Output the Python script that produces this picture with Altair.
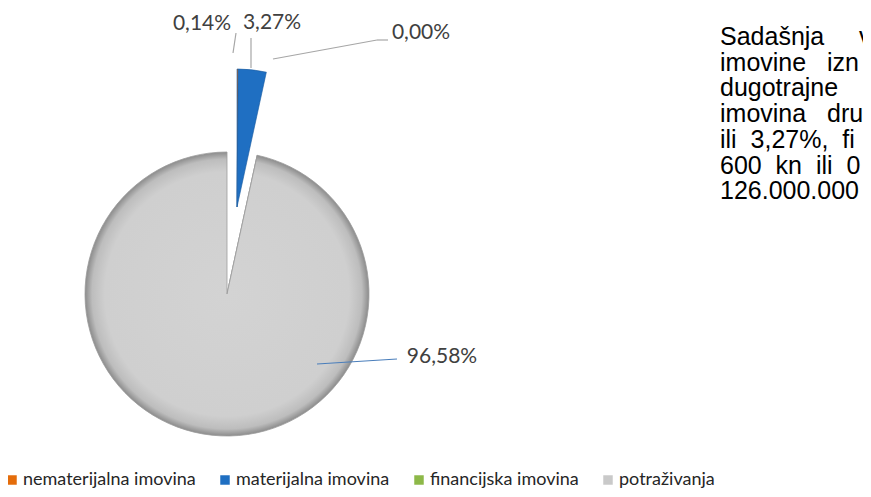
import altair as alt
import pandas as pd

# ---- data ----
categories = ["nematerijalna imovina", "materijalna imovina", "financijska imovina", "potraživanja"]
shares = [0.14, 3.27, 0.00, 96.58]
slice_colors = ["#E46C0A", "#1F6FC2", "#8DB848", "#C9C9C9"]
pulled_out = ["nematerijalna imovina", "materijalna imovina"]
NB = "\u00a0"
side_text_lines = [
    "Sadašnja" + NB * 5 + "v",
    "imovine" + NB * 3 + "izn",
    "dugotrajne",
    "imovina" + NB * 3 + "dru",
    "ili" + NB * 2 + "3,27%," + NB * 2 + "fi",
    "600" + NB * 2 + "kn" + NB * 2 + "ili" + NB * 2 + "0",
    "126.000.000",
]

df = pd.DataFrame({"kategorija": categories, "udio": shares, "redoslijed": list(range(len(categories)))})

# ---- layout (pixels inside the chart) ----
W, H = 855, 481
CX, CY, R = 219, 286, 142          # pie centre / radius
EX, EY, ER = 229, 199, 138         # pulled-out slices centre / radius
label_pos = {
    "nematerijalna imovina": (194, 16),
    "materijalna imovina": (264, 15),
    "financijska imovina": (413, 25),
    "potraživanja": (434, 349),
}
leaders = [  # (x, y, x2, y2, colour)
    (228, 25, 225, 45, "#A6A6A6"),
    (243, 30, 243, 60, "#A6A6A6"),
    (265, 51, 369, 32, "#A6A6A6"),
    (369, 32, 380, 32, "#A6A6A6"),
    (309, 356, 389, 351, "#4A7EBB"),
]
LABEL_FONT = "Lato"

base = alt.Chart(df).transform_calculate(
    oznaka="replace(format(datum.udio, '.2f'), '.', ',') + '%'"
)
theta = alt.Theta("udio:Q", stack=True)
order = alt.Order("redoslijed:Q")

gray_fill = alt.Gradient(
    gradient="radial",
    stops=[
        alt.GradientStop(color="#D3D3D3", offset=0),
        alt.GradientStop(color="#CFCFCF", offset=0.86),
        alt.GradientStop(color="#BDBDBD", offset=0.95),
        alt.GradientStop(color="#8C8C8C", offset=1),
    ],
    x1=0.5, y1=0.5, r1=0, x2=0.5, y2=0.5, r2=0.5,
)

main_pie = base.mark_arc(radius=R, fill=gray_fill, stroke="#9C9C9C", strokeWidth=0.8).encode(
    theta=theta,
    order=order,
    x=alt.value(CX),
    y=alt.value(CY),
    opacity=alt.condition(
        alt.FieldOneOfPredicate(field="kategorija", oneOf=pulled_out), alt.value(0), alt.value(1)
    ),
)

pulled_pie = base.mark_arc(radius=ER, stroke="#17599E", strokeWidth=0.6).encode(
    theta=theta,
    order=order,
    x=alt.value(EX),
    y=alt.value(EY),
    color=alt.Color(
        "kategorija:N",
        scale=alt.Scale(domain=categories, range=slice_colors),
        sort=categories,
        legend=alt.Legend(
            title=None,
            orient="none",
            legendX=-5,
            legendY=463,
            padding=0,
            direction="horizontal",
            columns=4,
            symbolType="square",
            symbolSize=90,
            symbolStrokeWidth=0,
            labelFont=LABEL_FONT,
            labelFontSize=18,
            labelColor="#262626",
            labelOffset=2,
            columnPadding=20,
            labelLimit=400,
        ),
    ),
    opacity=alt.condition(
        alt.FieldOneOfPredicate(field="kategorija", oneOf=pulled_out), alt.value(1), alt.value(0)
    ),
)

layers = [main_pie, pulled_pie]

for x, y, x2, y2, col in leaders:
    layers.append(
        alt.Chart(df).mark_rule(color=col, strokeWidth=1.2).encode(
            x=alt.value(x), y=alt.value(y), x2=alt.value(x2), y2=alt.value(y2)
        ).transform_filter(alt.datum.redoslijed == 0)
    )

for cat in categories:
    lx, ly = label_pos[cat]
    layers.append(
        base.transform_filter(alt.datum.kategorija == cat).mark_text(
            font=LABEL_FONT, fontSize=21, color="#404040", align="center", baseline="middle"
        ).encode(x=alt.value(lx), y=alt.value(ly), text="oznaka:N")
    )

side_text = alt.Chart(df).transform_filter(alt.datum.redoslijed == 0).mark_text(
    text=side_text_lines,
    font="Liberation Sans",
    fontSize=25,
    lineHeight=25.7,
    color="#000000",
    align="left",
    baseline="top",
).encode(x=alt.value(712), y=alt.value(17))
layers.append(side_text)

chart = alt.layer(*layers).properties(
    width=W, height=H, autosize=alt.AutoSizeParams(type="none"), padding=0,
    view=alt.ViewBackground(stroke=None, strokeWidth=0),
).configure_view(strokeWidth=0, stroke=None).configure(background="white")

chart.save("out.html", embed_options={"renderer": "svg", "actions": False})
